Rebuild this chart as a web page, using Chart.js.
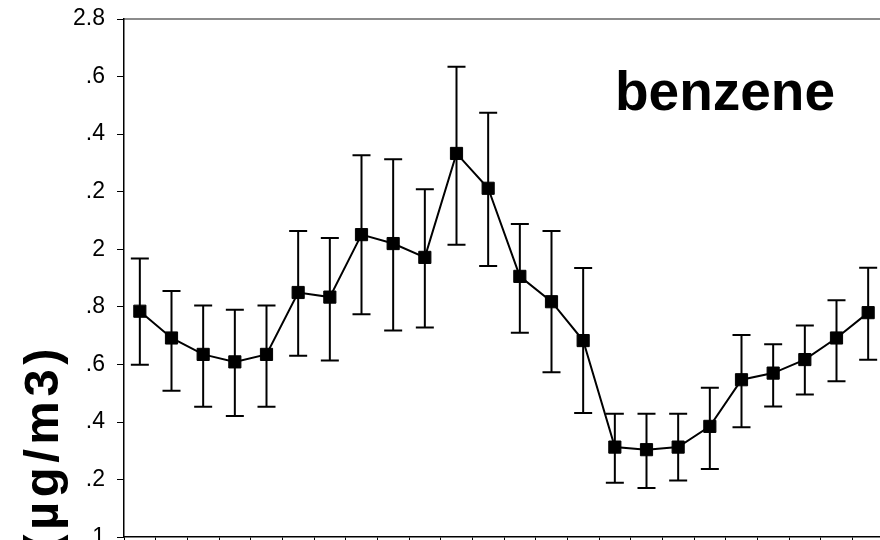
<!DOCTYPE html>
<html>
<head>
<meta charset="utf-8">
<script src="https://cdn.jsdelivr.net/npm/chart.js@4.4.1/dist/chart.umd.min.js"></script>
<style>
  html, body { margin: 0; padding: 0; overflow: hidden; background: #fff; width: 880px; height: 540px; }
  #wrap { position: relative; width: 880px; height: 540px; overflow: hidden; }
  canvas { position: absolute; left: 0; top: -7px; }
</style>
</head>
<body>
<div id="wrap"><canvas id="c" width="900" height="570"></canvas></div>
<script>
// Hour of day
const hours = ['0','1','2','3','4','5','6','7','8','9','10','11','12','13','14','15','16','17','18','19','20','21','22','23'];
// Mean benzene concentration (µg/m3)
const meanConc = [1.785, 1.692, 1.635, 1.609, 1.635, 1.850, 1.834, 2.051, 2.020, 1.972, 2.333, 2.212,
                  1.906, 1.818, 1.683, 1.313, 1.304, 1.313, 1.385, 1.547, 1.570, 1.617, 1.692, 1.780];
// Upper and lower ends of the error bars
const upperConc = [1.968, 1.855, 1.805, 1.790, 1.805, 2.064, 2.039, 2.327, 2.313, 2.209, 2.634, 2.474,
                   2.088, 2.064, 1.935, 1.429, 1.429, 1.429, 1.519, 1.702, 1.670, 1.735, 1.823, 1.936];
const lowerConc = [1.599, 1.509, 1.453, 1.421, 1.453, 1.630, 1.614, 1.774, 1.718, 1.728, 2.016, 1.942,
                   1.710, 1.573, 1.431, 1.189, 1.171, 1.197, 1.237, 1.382, 1.454, 1.496, 1.542, 1.616];
// Y tick labels, bottom to top
const yTickLabels = ['1', '.2', '.4', '.6', '.8', '2', '.2', '.4', '.6', '2.8'];

const FONT = "'Liberation Sans', Arial, Helvetica, sans-serif";
const SHIFT = 7; // canvas sits 7px above the page top

// Error bars with caps, drawn beneath the markers
const errorBars = {
  id: 'errorBars',
  beforeDatasetsDraw(chart) {
    const ctx = chart.ctx;
    const x = chart.scales.x, y = chart.scales.y;
    ctx.save();
    ctx.strokeStyle = '#000';
    ctx.lineWidth = 2;
    for (let i = 0; i < meanConc.length; i++) {
      const px = x.getPixelForValue(i);
      const yt = y.getPixelForValue(upperConc[i]);
      const yb = y.getPixelForValue(lowerConc[i]);
      ctx.beginPath();
      ctx.moveTo(px, yt); ctx.lineTo(px, yb);
      ctx.moveTo(px - 9, yt); ctx.lineTo(px + 9, yt);
      ctx.moveTo(px - 9, yb); ctx.lineTo(px + 9, yb);
      ctx.stroke();
    }
    ctx.restore();
  }
};

// Plot frame top edge, in-plot label and rotated axis title
const decorations = {
  id: 'decorations',
  beforeDraw(chart) {
    const ctx = chart.ctx, a = chart.chartArea;
    ctx.save();
    ctx.strokeStyle = '#8c8c8c';
    ctx.lineWidth = 2;
    ctx.beginPath();
    ctx.moveTo(a.left, a.top);
    ctx.lineTo(a.right, a.top);
    ctx.lineTo(a.right, a.bottom);
    ctx.stroke();
    ctx.restore();
  },
  afterDraw(chart) {
    const ctx = chart.ctx;
    ctx.save();
    ctx.fillStyle = '#000';
    ctx.font = 'bold 55px ' + FONT;
    ctx.textBaseline = 'alphabetic';
    ctx.textAlign = 'left';
    ctx.fillText('benzene', 615, 110 + SHIFT);

    ctx.translate(58, 344 + SHIFT);
    ctx.rotate(-Math.PI / 2);
    ctx.font = 'bold 49px ' + FONT;
    ctx.textAlign = 'right';
    if ('letterSpacing' in ctx) ctx.letterSpacing = '4.5px';
    ctx.fillText('(\u00b5g/m3)', 0, 0);
    ctx.restore();
  }
};

new Chart(document.getElementById('c'), {
  type: 'line',
  data: {
    labels: hours,
    datasets: [{
      data: meanConc,
      borderColor: '#000',
      borderWidth: 2,
      backgroundColor: '#000',
      pointStyle: 'rect',
      pointRadius: 8.6,
      pointBorderWidth: 1,
      pointBackgroundColor: '#000',
      pointBorderColor: '#000',
      tension: 0,
      fill: false
    }]
  },
  options: {
    responsive: false,
    animation: false,
    layout: { padding: { top: 26, right: 16, bottom: 0, left: 0 } },
    plugins: { legend: { display: false }, tooltip: { enabled: false } },
    scales: {
      x: {
        type: 'category',
        offset: true,
        grid: { offset: true, drawOnChartArea: false, drawTicks: true, tickLength: 7, color: '#000', lineWidth: 1 },
        border: { display: true, color: '#000', width: 1.5 },
        ticks: { display: false },
        afterFit(s) { s.height = 11; }
      },
      y: {
        min: 1,
        max: 2.8,
        grid: { drawOnChartArea: false, drawTicks: true, tickLength: 7, color: '#000', lineWidth: 1 },
        border: { display: true, color: '#000', width: 1.5 },
        ticks: {
          stepSize: 0.2,
          padding: 12,
          color: '#000',
          font: { family: FONT, size: 23 },
          callback: (v, i) => yTickLabels[i]
        },
        afterFit(s) { s.width = 124; }
      }
    }
  },
  plugins: [errorBars, decorations]
});
</script>
</body>
</html>
